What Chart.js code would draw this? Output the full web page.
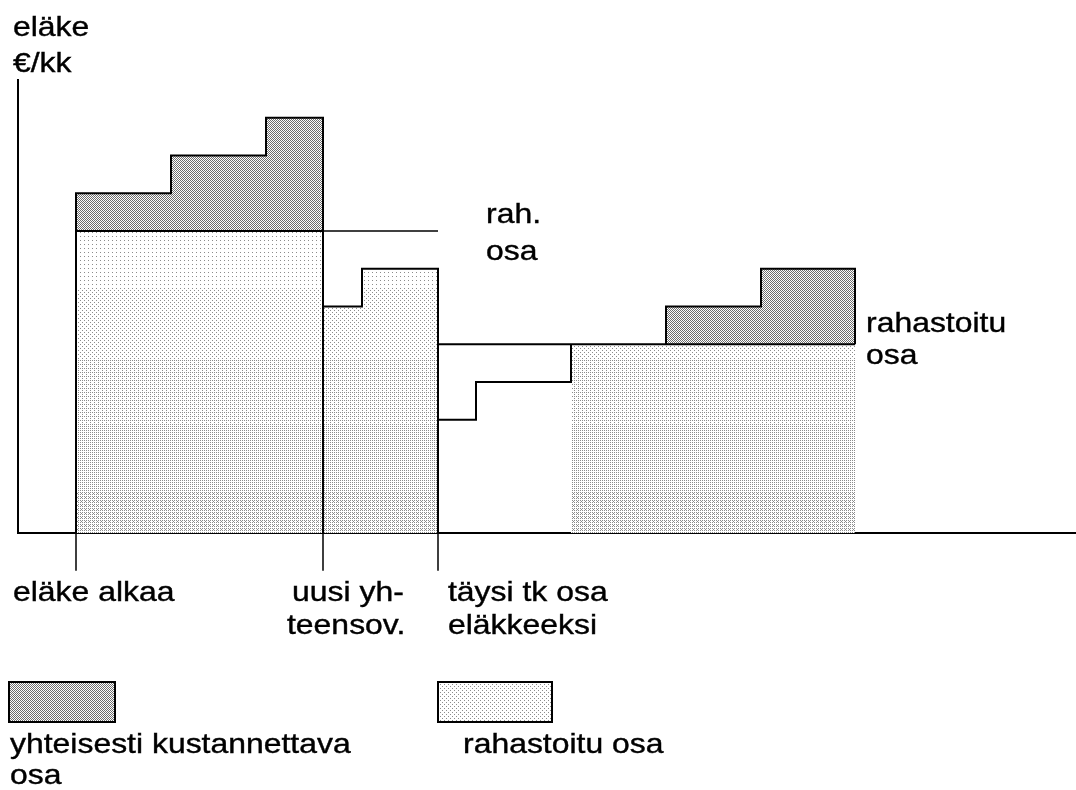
<!DOCTYPE html>
<html>
<head>
<meta charset="utf-8">
<script src="https://cdn.jsdelivr.net/npm/chart.js@4"></script>
<style>
  html, body { margin: 0; background: #fff; }
  #wrap { width: 1076px; height: 790px; position: relative; }
</style>
</head>
<body>
<div id="wrap"><canvas id="chart"></canvas></div>
<script>
// schematic: time on x (arbitrary units), pension €/kk on y (arbitrary units)
const eventX = [5.8, 30.5, 42];          // eläke alkaa, uusi yhteensov., täysi tk osa
const stepX1 = [5.8, 15.3, 24.8, 30.5];  // first period, three index steps
const total1 = [90, 100, 110];
const funded1 = 80;
const stepX2 = [30.5, 34.4, 42];         // after new coordination
const total2 = [60, 70];
const stepX3 = [42, 45.8, 55.3];         // tk part rising to full
const tk3 = [30, 40];
const funded3 = 50;
const fundedEndX = 83.7;
const stepX4 = [64.8, 74.3, 83.7];       // later index steps
const total4 = [60, 70];

const canvas = document.getElementById("chart");
const ctx = canvas.getContext("2d");

// ordered-dither halftone, a bit like the scanned original
const bayer = [[0, 8, 2, 10], [12, 4, 14, 6], [3, 11, 1, 9], [15, 7, 13, 5]];
function halftone(densityFn, dot) {
  const c = document.createElement("canvas");
  c.width = 1076;
  c.height = 790;
  const g = c.getContext("2d");
  const img = g.createImageData(c.width, c.height);
  for (let y = 0; y < c.height; y++) {
    for (let x = 0; x < c.width; x++) {
      const t = (bayer[y & 3][x & 3] + 0.5) / 16;
      const v = t < densityFn(x, y) ? dot : 255;
      const i = (y * c.width + x) * 4;
      img.data[i] = img.data[i + 1] = img.data[i + 2] = v;
      img.data[i + 3] = 255;
    }
  }
  g.putImageData(img, 0, 0);
  return ctx.createPattern(c, "no-repeat");
}
const darkFill = halftone(() => 0.5, 110);
const lightFill = halftone((x, y) => {
  const f = Math.min(1, Math.max(0, (y - 232) / 301));
  return 0.04 + 0.28 * f;
}, 140);
const legendLight = halftone(() => 0.12, 140);

function steps(xs, ys, base) {
  const pts = [];
  if (base != null) pts.push({ x: xs[0], y: base });
  ys.forEach((y, i) => {
    pts.push({ x: xs[i], y });
    pts.push({ x: xs[i + 1], y });
  });
  if (base != null) pts.push({ x: xs[xs.length - 1], y: base });
  return pts;
}

const line = (data, extra) => Object.assign({
  data,
  borderColor: "#000",
  borderWidth: 2,
  pointRadius: 0,
  tension: 0,
  fill: false,
  borderJoinStyle: "miter",
}, extra);

const tickMarks = [];
eventX.forEach((x) => {
  tickMarks.push({ x, y: 0 }, { x, y: -10 }, { x, y: null });
});

const texts = [
  ["eläke", 13, 36], ["€/kk", 13, 72],
  ["rah.", 486, 223], ["osa", 486, 260],
  ["rahastoitu", 866, 332], ["osa", 866, 364],
  ["eläke alkaa", 13, 601],
  ["uusi yh-", 292, 601], ["teensov.", 287, 634],
  ["täysi tk osa", 448, 601], ["eläkkeeksi", 448, 634],
  ["yhteisesti kustannettava", 10, 753], ["osa", 10, 784],
  ["rahastoitu osa", 463, 753],
];

const annotate = {
  id: "annotate",
  afterDraw(chart) {
    const c = chart.ctx;
    c.save();
    // legend boxes
    c.fillStyle = darkFill;
    c.fillRect(9, 682, 106, 40);
    c.fillStyle = legendLight;
    c.fillRect(438, 682, 114, 40);
    c.strokeStyle = "#000";
    c.lineWidth = 2;
    c.strokeRect(9, 682, 106, 40);
    c.strokeRect(438, 682, 114, 40);
    // texts (original type is a little wide and heavy)
    c.fillStyle = "#000";
    c.strokeStyle = "#000";
    c.lineWidth = 0.4;
    c.font = '28px "Liberation Sans", Arial, sans-serif';
    c.textBaseline = "alphabetic";
    texts.forEach(([t, x, y]) => {
      c.save();
      c.translate(x, y);
      c.scale(1.14, 1);
      c.fillText(t, 0, 0);
      c.strokeText(t, 0, 0);
      c.restore();
    });
    c.restore();
  },
};

const axisOpts = {
  ticks: { display: false, padding: 0 },
  grid: { display: false, drawTicks: false, tickLength: 0 },
  border: { color: "#000", width: 2 },
};

new Chart(ctx, {
  type: "line",
  data: {
    datasets: [
      line(tickMarks, { clip: false, borderWidth: 1.5, order: 0 }),
      line([{ x: stepX1[3], y: funded1 }, { x: stepX2[2], y: funded1 }], { borderWidth: 1.5, order: 1 }),
      line([{ x: stepX3[0], y: funded3 }, { x: fundedEndX, y: funded3 }], { order: 1 }),
      line(steps(stepX3, tk3).concat([{ x: stepX3[2], y: funded3 }]), { order: 1 }),
      line(steps(stepX4, total4, funded3), { fill: { value: funded3 }, backgroundColor: darkFill, order: 2 }),
      line(steps([stepX3[2], fundedEndX], [funded3], 0), { fill: "origin", backgroundColor: lightFill, borderWidth: 0, order: 3 }),
      line(steps(stepX2, total2, 0), { fill: "origin", backgroundColor: lightFill, order: 3 }),
      line(steps([stepX1[0], stepX1[3]], [funded1], 0), { fill: "origin", backgroundColor: lightFill, order: 4 }),
      line(steps(stepX1, total1, 0), { fill: "origin", backgroundColor: darkFill, order: 5 }),
    ],
  },
  options: {
    responsive: true,
    maintainAspectRatio: false,
    animation: false,
    layout: { padding: { left: 18, top: 80, right: 0, bottom: 257 } },
    plugins: { legend: { display: false }, tooltip: { enabled: false } },
    scales: {
      x: Object.assign({ type: "linear", min: 0, max: 105.8 }, axisOpts),
      y: Object.assign({ min: 0, max: 120 }, axisOpts),
    },
  },
  plugins: [annotate],
});
</script>
</body>
</html>
